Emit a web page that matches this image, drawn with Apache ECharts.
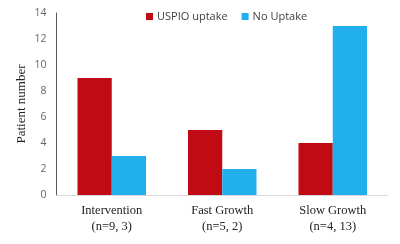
<!DOCTYPE html>
<html><head><meta charset="utf-8">
<script src="https://cdn.jsdelivr.net/npm/echarts@6/dist/echarts.min.js"></script>
<style>html,body{margin:0;padding:0;background:#fff}#c{width:400px;height:244px}</style>
</head><body><div id="c"></div>
<script>
const categories = ['Intervention\n(n=9, 3)', 'Fast Growth\n(n=5, 2)', 'Slow Growth\n(n=4, 13)'];
const uspioUptake = [9, 5, 4];
const noUptake = [3, 2, 13];
const seriesNames = ['USPIO uptake', 'No Uptake'];
const yTicks = { min: 0, max: 14, interval: 2 };

const chart = echarts.init(document.getElementById('c'));
chart.setOption({
  animation: false,
  legend: {
    top: 11, left: 146, padding: 0, itemWidth: 7, itemHeight: 7, itemGap: 14,
    icon: 'rect',
    textStyle: { fontFamily: 'Open Sans, sans-serif', fontSize: 11, color: '#404040', padding: [0,0,0,-1] },
    data: seriesNames
  },
  grid: { left: 56.5, right: 12, top: 13, bottom: 49, containLabel: false },
  xAxis: {
    type: 'category', data: categories,
    axisLine: { lineStyle: { color: '#d9d9d9', width: 1 } },
    axisTick: { show: false },
    axisLabel: { fontFamily: 'Liberation Serif, Times New Roman, serif', fontSize: 12.5, color: '#222', lineHeight: 16, margin: 8 }
  },
  yAxis: {
    type: 'value', min: yTicks.min, max: yTicks.max, interval: yTicks.interval,
    name: 'Patient number', nameLocation: 'middle', nameGap: 28, nameMoveOverlap: false,
    nameTextStyle: { fontFamily: 'Liberation Serif, Times New Roman, serif', fontSize: 13, color: '#222' },
    axisLine: { show: true, lineStyle: { color: '#595959', width: 1 } },
    axisTick: { show: false },
    splitLine: { show: false },
    axisLabel: { fontFamily: 'Open Sans, sans-serif', fontSize: 10.5, color: '#666', margin: 10 }
  },
  series: [
    { name: seriesNames[0], type: 'bar', data: uspioUptake, barGap: '0%', barCategoryGap: '38%', itemStyle: { color: '#C00A14' } },
    { name: seriesNames[1], type: 'bar', data: noUptake, barGap: '0%', barCategoryGap: '38%', itemStyle: { color: '#21B0EC' } }
  ]
});
</script></body></html>
